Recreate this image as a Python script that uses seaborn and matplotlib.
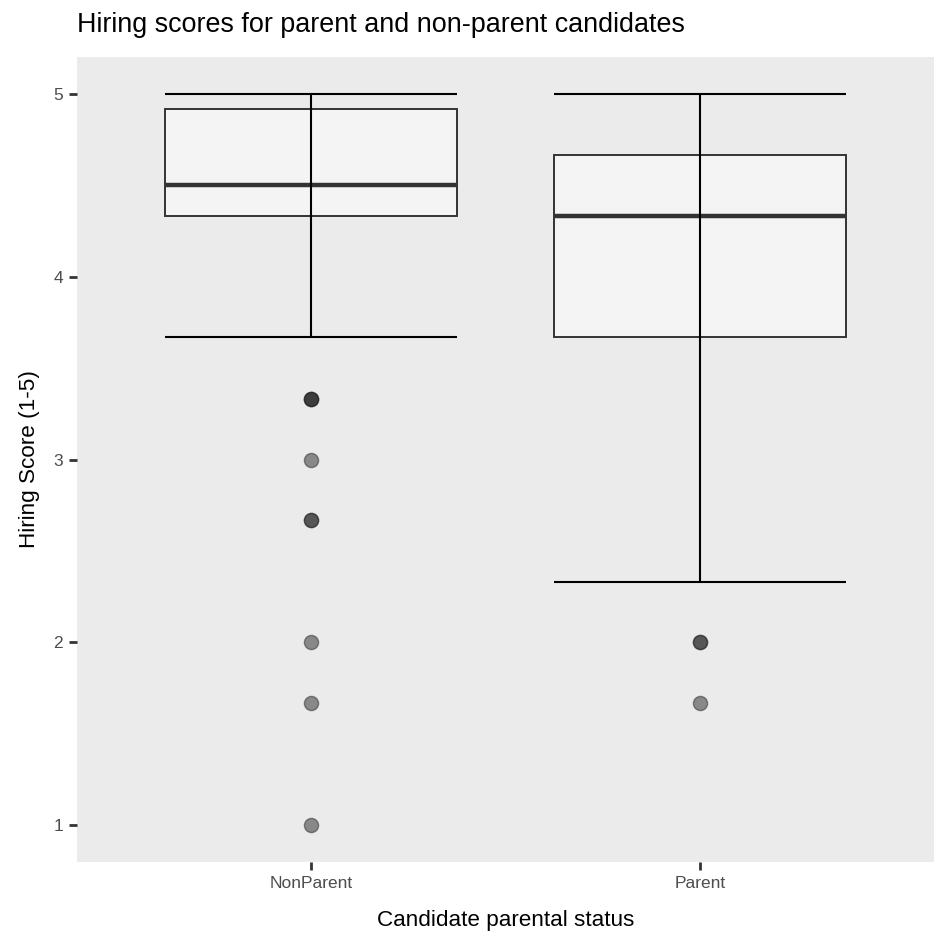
import matplotlib
matplotlib.use("Agg")
import matplotlib.pyplot as plt
import seaborn as sns
import pandas as pd

# Five-number summaries per group (whisker low, Q1, median, Q3, whisker high)
groups = ["NonParent", "Parent"]
whisker_low = [3.667, 2.333]
q1 = [4.333, 3.667]
median = [4.5, 4.333]
q3 = [4.917, 4.667]
whisker_high = [5.0, 5.0]

# Outlying scores (repeated values stack up as darker dots)
nonparent_outliers = [3.333, 3.333, 3.333, 3.0, 2.667, 2.667, 2.0, 1.667, 1.0]
parent_outliers = [2.0, 2.0, 1.667]

y_ticks = [1, 2, 3, 4, 5]

sns.set_theme(style="white")
plt.rcParams["font.family"] = ["Liberation Sans", "DejaVu Sans"]

W, H = 934, 932
fig = plt.figure(figsize=(W / 100, H / 100), dpi=100)
left, right, top, bottom = 77, 934, 57, 862
ax = fig.add_axes([left / W, 1 - bottom / H, (right - left) / W, (bottom - top) / H])
ax.set_facecolor("#EBEBEB")
for s in ax.spines.values():
    s.set_visible(False)

box_w = 0.75
stats = []
for i, g in enumerate(groups):
    stats.append(dict(label=g, whislo=whisker_low[i], q1=q1[i], med=median[i],
                      q3=q3[i], whishi=whisker_high[i], fliers=[]))
ax.bxp(stats, positions=range(len(groups)), widths=box_w, patch_artist=True,
       showcaps=False, showfliers=False, manage_ticks=False,
       boxprops=dict(facecolor="#F4F4F4", edgecolor="#333333", linewidth=1.4),
       whiskerprops=dict(linewidth=0),
       medianprops=dict(color="#333333", linewidth=3.2, solid_capstyle="butt"))

# Error-bar style whiskers: full vertical line plus caps spanning the box width
for i in range(len(groups)):
    ax.vlines(i, whisker_low[i], whisker_high[i], color="black", linewidth=1.5, zorder=4)
    ax.hlines([whisker_low[i], whisker_high[i]], i - box_w / 2, i + box_w / 2,
              color="black", linewidth=1.5, zorder=4)

out_df = pd.DataFrame({
    "status": ["NonParent"] * len(nonparent_outliers) + ["Parent"] * len(parent_outliers),
    "score": nonparent_outliers + parent_outliers,
})
sns.stripplot(data=out_df, x="status", y="score", order=groups, jitter=False,
              color="#262626", alpha=0.5, size=10.2, linewidth=1.0,
              edgecolor="#262626", ax=ax, zorder=5)

ax.set_xlim(-0.6, 1.6)
ax.set_ylim(0.8, 5.2)
ax.set_xticks(range(len(groups)))
ax.set_xticklabels(groups)
ax.set_yticks(y_ticks)
ax.set_yticklabels([str(t) for t in y_ticks])
ax.set_xlabel("")
ax.set_ylabel("")
ax.tick_params(axis="both", which="both", length=6, width=2, color="#333333",
               labelcolor="#4D4D4D", labelsize=12.5, pad=4,
               bottom=True, left=True)

fig.text(left / W, 1 - 32 / H, "Hiring scores for parent and non-parent candidates",
         fontsize=19.4, color="black", ha="left", va="baseline")
fig.text((left + right) / 2 / W, 1 - 926 / H, "Candidate parental status",
         fontsize=16.2, color="black", ha="center", va="baseline")
fig.text(35 / W, 1 - ((top + bottom) / 2) / H, "Hiring Score (1-5)",
         fontsize=16.2, color="black", rotation=90, rotation_mode="anchor",
         ha="center", va="baseline")

fig.savefig("out.png", dpi=100)
